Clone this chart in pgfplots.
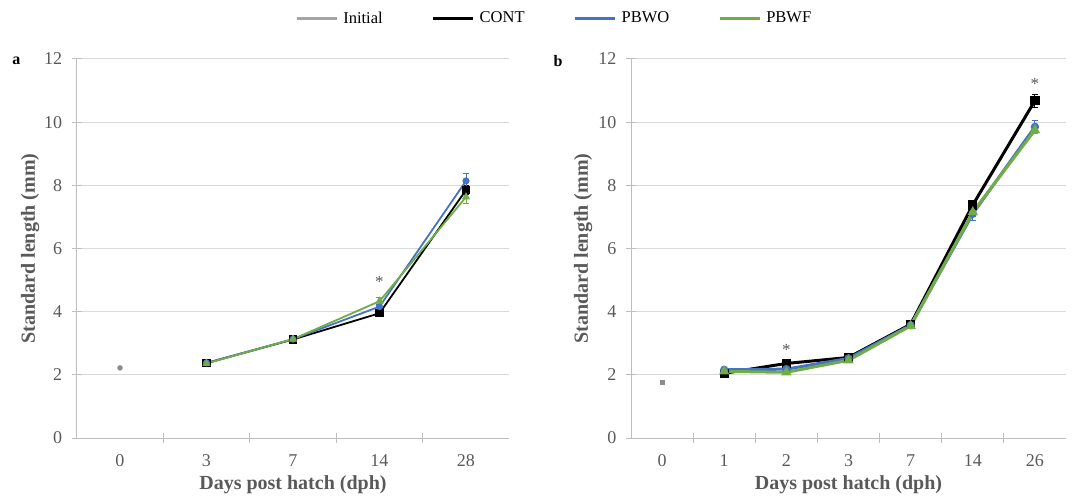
\documentclass[border=0pt]{standalone}
\usepackage{fontspec}
\setmainfont{Liberation Serif}
\usepackage{pgfplots}
\pgfplotsset{compat=1.18}

\definecolor{cinit}{HTML}{A5A5A5}
\definecolor{cinitm}{HTML}{8C8C8C}
\definecolor{ccont}{HTML}{000000}
\definecolor{cpbwo}{HTML}{4472C4}
\definecolor{cpbwf}{HTML}{70AD47}
\definecolor{axgray}{HTML}{BFBFBF}
\definecolor{gridgray}{HTML}{D9D9D9}
\definecolor{txtgray}{HTML}{595959}

\tikzset{star/.style={font=\fontsize{17}{17}\selectfont, text=txtgray}}
\pgfplotsset{
  errb/.style={error bars/.cd, y dir=both, y explicit,
    error bar style={line width=0.9pt},
    error mark options={rotate=90, mark size=3pt, line width=0.9pt}},
  excel/.style={
    scale only axis, height=379pt,
    ymin=0, ymax=12, ytick={0,2,...,12},
    axis lines=left, axis line style={-, axgray, line width=1pt},
    ymajorgrids, grid style={gridgray, line width=1pt},
    tick align=center, major tick length=10pt, minor tick length=10pt,
    tick style={axgray, line width=1pt},
    major x tick style={draw=none},
    ticklabel style={font=\fontsize{18}{20}\selectfont, text=txtgray},
    xticklabel style={yshift=-8pt},
    yticklabel style={xshift=-6pt},
    /pgf/number format/assume math mode=true,
    xlabel={Days post hatch (dph)}, ylabel={Standard length (mm)},
    label style={font=\bfseries\fontsize{20}{22}\selectfont, text=txtgray},
    x label style={at={(axis description cs:0.5,-0.124)}, anchor=center},
    clip=false,
  },
}

\begin{document}
\begin{tikzpicture}
\path[use as bounding box] (0,0) rectangle (1072pt,496pt);

% panel a
\begin{axis}[excel,
  at={(76.75pt,58pt)}, anchor=south west, width=432.5pt,
  xmin=-0.5, xmax=4.5, xtick={0,...,4}, xticklabels={0,3,7,14,28},
  minor xtick={0.5,1.5,2.5,3.5},
  y label style={at={(axis description cs:-0.108,0.5)}, anchor=center},
  legend image code/.code={\draw[#1] (0pt,0pt) -- (40pt,0pt);},
  legend style={at={(1.104,1.108)}, anchor=center, draw=none, fill=none,
    font=\fontsize{16.5}{18}\selectfont, legend columns=4,
    /tikz/every odd column/.append style={column sep=3pt},
    /tikz/every even column/.append style={column sep=47pt}},
]
\addlegendimage{cinit, line width=3pt}
\addlegendimage{ccont, line width=3pt}
\addlegendimage{cpbwo, line width=3pt}
\addlegendimage{cpbwf, line width=3pt}
\legend{Initial, CONT, PBWO, PBWF}

\addplot[only marks, cinitm, mark=*, mark size=2.5pt] coordinates {(0,2.22)};
\addplot[ccont, line width=1.8pt, mark=square*, mark size=3.2pt, errb] coordinates {
  (1,2.37) +- (0,0.03) (2,3.12) +- (0,0.04) (3,3.95) +- (0,0.06) (4,7.85) +- (0,0.15)};
\addplot[cpbwo, line width=1.8pt, mark=*, mark size=2.6pt, errb] coordinates {
  (1,2.38) +- (0,0.03) (2,3.13) +- (0,0.04) (3,4.16) +- (0,0.08) (4,8.14) +- (0,0.25)};
\addplot[cpbwf, line width=1.8pt, mark=triangle*, mark size=3pt, errb] coordinates {
  (1,2.36) +- (0,0.03) (2,3.13) +- (0,0.04) (3,4.33) +- (0,0.12) (4,7.63) +- (0,0.2)};
\node[star] at (axis cs:3,4.95) {*};
\end{axis}

% panel b
\begin{axis}[excel,
  at={(631pt,58pt)}, anchor=south west, width=435pt,
  xmin=-0.5, xmax=6.5, xtick={0,...,6}, xticklabels={0,1,2,3,7,14,26},
  minor xtick={0.5,1.5,2.5,3.5,4.5,5.5},
  y label style={at={(axis description cs:-0.110,0.5)}, anchor=center},
]
\addplot[only marks, cinitm, mark=square*, mark size=2.2pt] coordinates {(0,1.77)};
\addplot[ccont, line width=3pt, mark=square*, mark size=3.2pt, errb] coordinates {
  (1,2.05) +- (0,0.03) (2,2.36) +- (0,0.04) (3,2.55) +- (0,0.04)
  (4,3.6) +- (0,0.05) (5,7.38) +- (0,0.12) (6,10.68) +- (0,0.2)};
\addplot[cpbwo, line width=3pt, mark=*, mark size=2.6pt, errb] coordinates {
  (1,2.16) +- (0,0.03) (2,2.18) +- (0,0.04) (3,2.52) +- (0,0.04)
  (4,3.57) +- (0,0.05) (5,7.1) +- (0,0.2) (6,9.85) +- (0,0.22)};
\addplot[cpbwf, line width=3pt, mark=triangle*, mark size=3pt, errb] coordinates {
  (1,2.11) +- (0,0.03) (2,2.08) +- (0,0.04) (3,2.46) +- (0,0.04)
  (4,3.55) +- (0,0.05) (5,7.15) +- (0,0.15) (6,9.75) +- (0,0.1)};
\node[star] at (axis cs:2,2.78) {*};
\node[star] at (axis cs:6,11.2) {*};
\end{axis}

\node[font=\bfseries\fontsize{16}{16}\selectfont] at (16.5pt,435pt) {a};
\node[font=\bfseries\fontsize{16}{16}\selectfont] at (558pt,435pt) {b};
\end{tikzpicture}
\end{document}
